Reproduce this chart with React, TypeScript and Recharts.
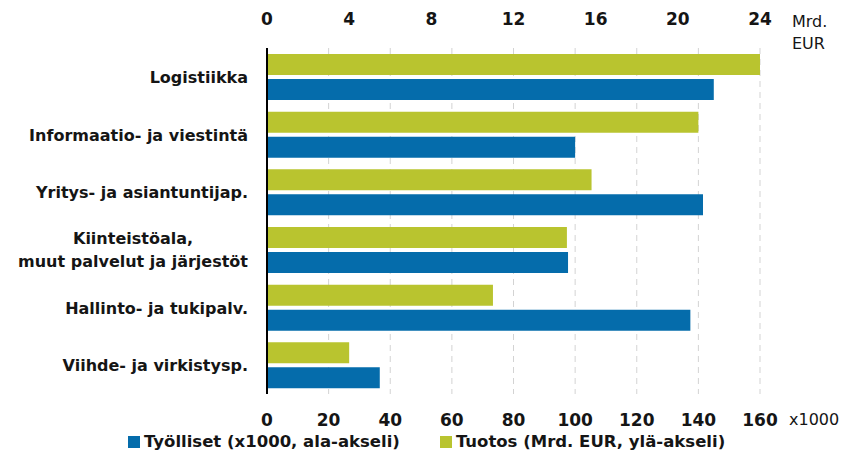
import React from 'react';
import { BarChart, Bar, XAxis, YAxis, CartesianGrid, Label } from 'recharts';

const categories = [
  'Logistiikka',
  'Informaatio- ja viestintä',
  'Yritys- ja asiantuntijap.',
  'Kiinteistöala,\nmuut palvelut ja järjestöt',
  'Hallinto- ja tukipalv.',
  'Viihde- ja virkistysp.',
];
// Mrd. EUR (top axis)
const tuotos = [24.0, 21.0, 15.8, 14.6, 11.0, 4.0];
// x1000 (bottom axis)
const tyolliset = [145, 100, 141.5, 97.7, 137.4, 36.6];
const topTicks = [0, 4, 8, 12, 16, 20, 24];
const bottomTicks = [0, 20, 40, 60, 80, 100, 120, 140, 160];

const BLUE = '#056cab';
const GREEN = '#b9c42f';
const FONT = '"DejaVu Sans", sans-serif';
const TEXT = '#151515';

const data = categories.map((name, i) => ({ name, tuotos: tuotos[i], tyolliset: tyolliset[i] }));

let measureCtx: CanvasRenderingContext2D | null = null;
const measure = (s: string) => {
  if (!measureCtx) measureCtx = document.createElement('canvas').getContext('2d');
  if (!measureCtx) return s.length * 9;
  measureCtx.font = `bold 16px ${FONT}`;
  return measureCtx.measureText(s).width;
};

const CategoryTick = (props: any) => {
  const { x, y, payload } = props;
  const lines: string[] = String(payload.value).split('\n');
  if (lines.length === 1) {
    return (
      <text x={x} y={y} dy={6} textAnchor="end" fontFamily={FONT} fontWeight="bold" fontSize={16} fill={TEXT}>
        {lines[0]}
      </text>
    );
  }
  // multi-line labels are centred on the widest line, block right-aligned
  const w = Math.max(...lines.map(measure));
  const cx = x - w / 2;
  return (
    <text textAnchor="middle" fontFamily={FONT} fontWeight="bold" fontSize={16} fill={TEXT}>
      {lines.map((l, i) => (
        <tspan key={i} x={cx} y={y + 6 + (i - (lines.length - 1) / 2) * 23}>{l}</tspan>
      ))}
    </text>
  );
};

const tickStyle = { fontFamily: FONT, fontWeight: 'bold', fontSize: 17, fill: TEXT };

export default function App() {
  return (
    <div style={{ position: 'absolute', left: 0, top: 0, width: 846, height: 456, background: '#fff' }}>
      <BarChart
        width={846}
        height={456}
        data={data}
        layout="vertical"
        margin={{ top: 18, right: 86, bottom: 32, left: 0 }}
        barSize={21}
        barGap={4}
      >
        <CartesianGrid horizontal={false} xAxisId="bottom" stroke="#d3d3d3" strokeDasharray="6 5" />
        <XAxis
          xAxisId="top"
          orientation="top"
          type="number"
          domain={[0, 24]}
          ticks={topTicks}
          axisLine={false}
          tickLine={false}
          tickMargin={17}
          height={30}
          tick={tickStyle}
          interval={0}
        >
          <Label
            content={(p: any) => {
              const vb = p.viewBox;
              return (
                <text fontFamily={FONT} fontSize={16} fill={TEXT}>
                  <tspan x={vb.x + vb.width + 32} y={vb.y + 9}>Mrd.</tspan>
                  <tspan x={vb.x + vb.width + 32} y={vb.y + 31}>EUR</tspan>
                </text>
              );
            }}
          />
        </XAxis>
        <XAxis
          xAxisId="bottom"
          orientation="bottom"
          type="number"
          domain={[0, 160]}
          ticks={bottomTicks}
          axisLine={false}
          tickLine={false}
          tickMargin={14}
          height={30}
          tick={tickStyle}
          interval={0}
        >
          <Label
            content={(p: any) => {
              const vb = p.viewBox;
              return (
                <text x={vb.x + vb.width + 29} y={vb.y + 31} fontFamily={FONT} fontSize={16} fill={TEXT}>
                  x1000
                </text>
              );
            }}
          />
        </XAxis>
        <YAxis
          type="category"
          dataKey="name"
          width={267}
          axisLine={{ stroke: '#000', strokeWidth: 2 }}
          tickLine={false}
          tickMargin={13}
          tick={<CategoryTick />}
          interval={0}
        />
        <Bar xAxisId="top" dataKey="tuotos" fill={GREEN} isAnimationActive={false} />
        <Bar xAxisId="bottom" dataKey="tyolliset" fill={BLUE} isAnimationActive={false} />
      </BarChart>
      <div
        style={{
          position: 'absolute',
          left: 128,
          top: 432,
          display: 'flex',
          alignItems: 'center',
          fontFamily: FONT,
          fontWeight: 'bold',
          fontSize: 16.5,
          color: TEXT,
          whiteSpace: 'nowrap',
        }}
      >
        <span style={{ width: 12, height: 12, background: BLUE, marginRight: 4 }} />
        <span style={{ marginRight: 40 }}>Työlliset (x1000, ala-akseli)</span>
        <span style={{ width: 12, height: 12, background: GREEN, marginRight: 4 }} />
        <span>Tuotos (Mrd. EUR, ylä-akseli)</span>
      </div>
    </div>
  );
}
